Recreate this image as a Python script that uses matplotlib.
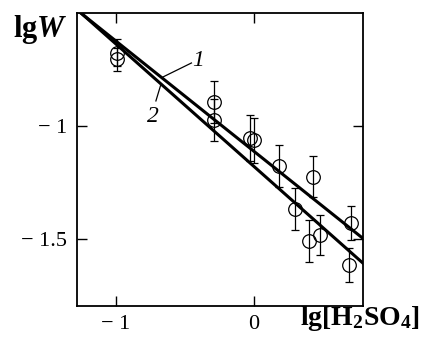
import numpy as np
import matplotlib
matplotlib.use('Agg')
import matplotlib.pyplot as plt

plt.rcParams['font.family'] = 'Liberation Serif'
plt.rcParams['mathtext.fontset'] = 'custom'
plt.rcParams['mathtext.rm'] = 'Liberation Serif'
plt.rcParams['mathtext.it'] = 'Liberation Serif:italic'
plt.rcParams['mathtext.bf'] = 'Liberation Serif:bold'
plt.rcParams['mathtext.bfit'] = 'Liberation Serif:bold:italic'

# measured points lg[H2SO4] vs lgW
lg_acid = [-0.99, -0.99, -0.29, -0.29, -0.03, 0.0, 0.18, 0.30, 0.40, 0.43, 0.48, 0.70, 0.69]
lg_w = [-0.676, -0.705, -0.892, -0.973, -1.053, -1.064, -1.177, -1.369, -1.509,
        -1.224, -1.482, -1.431, -1.615]
err = [0.06, 0.05, 0.093, 0.093, 0.1, 0.1, 0.093, 0.093, 0.093, 0.09, 0.09, 0.075, 0.075]

# fitted lines: intercept, slope
fit1 = (-1.112, -0.489)
fit2 = (-1.179, -0.543)

xticks = [-1, 0]
xticklabels = ['\u2212 1', '0']
yticks = [-1, -1.5]
yticklabels = ['\u2212 1', '\u2212 1.5']

fig = plt.figure(figsize=(4.25, 3.4), dpi=100)
ax = fig.add_axes([0.181, 0.101, 0.673, 0.860])

ax.errorbar(lg_acid, lg_w, yerr=err, fmt='o', mfc='none', mec='k', ms=9.8, mew=0.9,
            ecolor='k', elinewidth=0.9, capsize=3, capthick=0.9, zorder=3)

xx = np.array([-1.3, 0.85])
for a, b in (fit1, fit2):
    ax.plot(xx, a + b * xx, color='k', lw=2.2, zorder=2)

# curve labels with leader lines
ax.plot([-0.452, -0.658], [-0.721, -0.783], color='k', lw=0.9)
ax.plot([-0.709, -0.672], [-0.889, -0.814], color='k', lw=0.9)
ax.text(-0.405, -0.708, '1', style='italic', fontsize=17, ha='center', va='center')
ax.text(-0.730, -0.956, '2', style='italic', fontsize=17, ha='center', va='center')

ax.set_xlim(-1.28, 0.788)
ax.set_ylim(-1.795, -0.501)
ax.set_xticks(xticks)
ax.set_xticklabels(xticklabels)
ax.set_yticks(yticks)
ax.set_yticklabels(yticklabels)
ax.tick_params(direction='in', length=7, width=1, labelsize=16, top=True, right=True, pad=7)
for s in ax.spines.values():
    s.set_linewidth(1.3)

fig.text(0.03, 0.89, r'$\mathbf{lg}\mathbfit{W}$', fontsize=22, ha='left', va='baseline')
fig.text(0.988, 0.045, r'$\mathbf{lg[H_2SO_4]}$', fontsize=20, ha='right', va='baseline')

fig.savefig('out.png', dpi=100)
